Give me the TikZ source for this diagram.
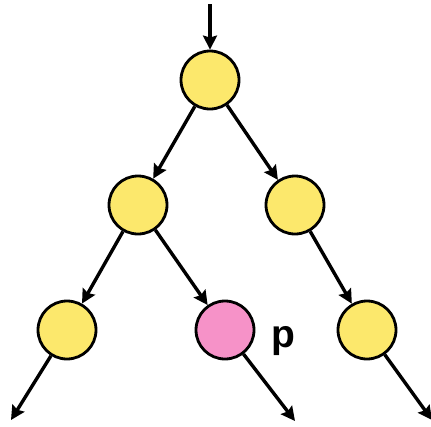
\documentclass[tikz,border=0pt]{standalone}
\usepackage{fontspec}
\setmainfont{Liberation Sans}
\usetikzlibrary{arrows.meta}
\definecolor{nodeyellow}{RGB}{252,232,108}
\definecolor{nodepink}{RGB}{246,146,200}
\tikzset{
  treenode/.style={circle, draw=black, line width=2.8pt, minimum size=58pt, inner sep=0pt, fill=nodeyellow},
  marked/.style={treenode, fill=nodepink},
  edge/.style={line width=3.4pt, -{Stealth[length=14pt,width=14pt,inset=2pt]}},
}
\begin{document}
\begin{tikzpicture}[x=1pt,y=-1pt]
  \useasboundingbox (0,0) rectangle (431,426);
  % tree nodes
  \node[treenode] (root) at (210,80) {};
  \node[treenode] (l) at (138,205) {};
  \node[treenode] (r) at (295,205) {};
  \node[treenode] (ll) at (67,330) {};
  \node[marked] (lr) at (225,330) {};
  \node[treenode] (rr) at (367,330) {};
  \node[font=\fontsize{39}{39}\selectfont\bfseries, anchor=base, inner sep=0pt] (plabel) at (283,347) {p};
  % free ends of the dangling arrows
  \coordinate (in) at (210,4);
  \coordinate (llout) at (11,420);
  \coordinate (lrout) at (295,421);
  \coordinate (rrout) at (432,420);
  % connectors
  \draw[edge] (in) -- (root);
  \draw[edge] (root) -- (l);
  \draw[edge] (root) -- (r);
  \draw[edge] (l) -- (ll);
  \draw[edge] (l) -- (lr);
  \draw[edge] (r) -- (rr);
  \draw[edge] (ll) -- (llout);
  \draw[edge] (lr) -- (lrout);
  \draw[edge] (rr) -- (rrout);
\end{tikzpicture}
\end{document}
